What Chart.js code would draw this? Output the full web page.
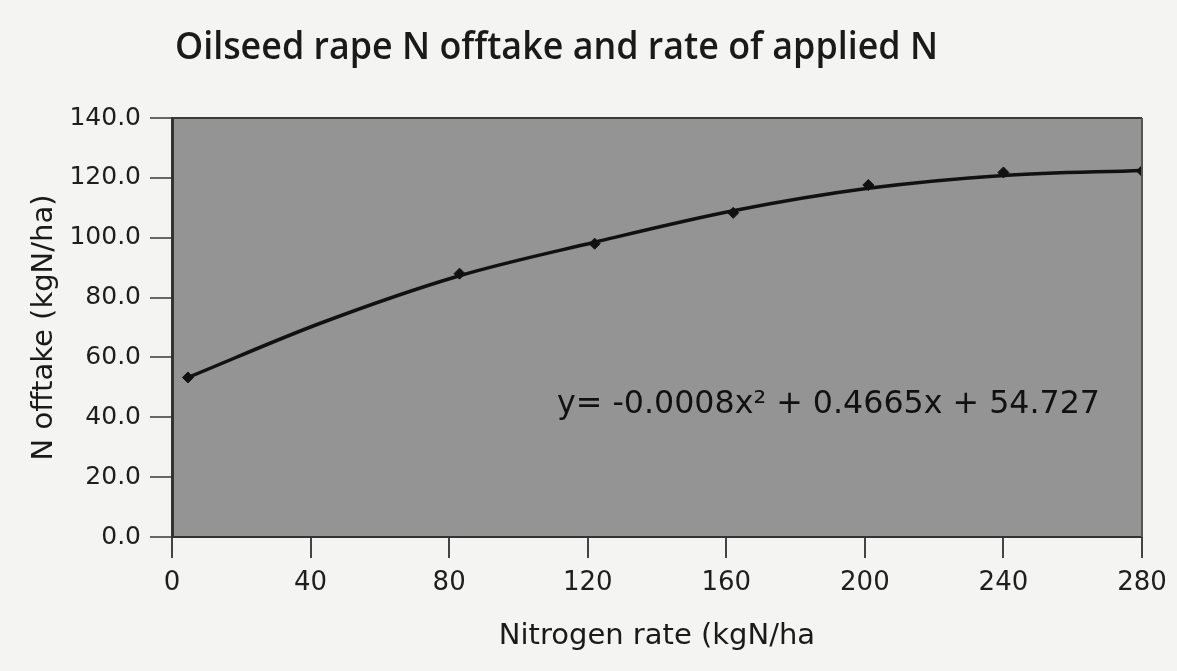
<!DOCTYPE html>
<html>
<head>
<meta charset="utf-8">
<script src="https://cdn.jsdelivr.net/npm/chart.js@4.4.1/dist/chart.umd.min.js"></script>
<style>
  html, body { margin: 0; padding: 0; background: #f4f4f3; }
  #wrap { width: 1177px; height: 671px; position: relative; }
</style>
</head>
<body>
<div id="wrap"><canvas id="c" width="1177" height="671"></canvas></div>
<script>
// ---- data ----
const chartTitle = "Oilseed rape N offtake and rate of applied N";
const xAxisTitle = "Nitrogen rate (kgN/ha";
const yAxisTitle = "N offtake (kgN/ha)";
const equationText = "y= -0.0008x\u00B2 + 0.4665x + 54.727";

const nitrogenRate = [4.6, 83, 122, 162, 201, 240, 280];
const nOfftake     = [53.3, 88.0, 98.0, 108.3, 117.6, 121.8, 122.3];

// trend curve
const trendX = [4.6, 43, 83, 122, 162, 201, 240, 280];
const trendY = [53.3, 71.5, 87.3, 98.5, 109.0, 116.5, 120.8, 122.5];

const xTicks = [0, 40, 80, 120, 160, 200, 240, 280];
const yTicks = [0, 20, 40, 60, 80, 100, 120, 140];

// ---- chart ----
const FONT = "'DejaVu Sans', 'Open Sans', sans-serif";
const TITLE_FONT = "'Open Sans', sans-serif";
const PLOT = { left: 172, right: 1142, top: 118, bottom: 537 };

function fitText(ctx, text, family, weight, baseSize, targetW) {
  ctx.font = weight + " " + baseSize + "px " + family;
  const w = ctx.measureText(text).width;
  ctx.font = weight + " " + (baseSize * targetW / w).toFixed(2) + "px " + family;
}

const decor = {
  id: 'decor',
  beforeDraw(chart) {
    const { ctx, chartArea: a } = chart;
    ctx.save();
    ctx.fillStyle = '#f4f4f3';
    ctx.fillRect(0, 0, chart.width, chart.height);
    ctx.fillStyle = '#949494';
    ctx.fillRect(a.left, a.top, a.right - a.left, a.bottom - a.top);
    ctx.restore();
  },
  afterDatasetsDraw(chart) {
    const { ctx, chartArea: a } = chart;
    ctx.save();
    ctx.strokeStyle = '#3a3a3a';
    ctx.lineWidth = 2;
    ctx.beginPath();
    ctx.moveTo(a.left, a.top); ctx.lineTo(a.right, a.top);
    ctx.stroke();
    ctx.strokeStyle = '#555';
    ctx.beginPath();
    ctx.moveTo(a.right, a.top); ctx.lineTo(a.right, a.bottom);
    ctx.stroke();
    // equation
    ctx.fillStyle = '#111';
    ctx.textBaseline = 'middle';
    ctx.textAlign = 'left';
    fitText(ctx, equationText, FONT, 'normal', 28, 543);
    ctx.fillText(equationText, 557, 405);
    // title: condensed look, drawn tall then squeezed to the measured width
    ctx.fillStyle = '#1a1a1a';
    ctx.font = "600 37px " + TITLE_FONT;
    const wT = ctx.measureText(chartTitle).width;
    ctx.translate(175, 48);
    ctx.scale(763 / wT, 1);
    ctx.fillText(chartTitle, 0, 0);
    ctx.restore();
  }
};

new Chart(document.getElementById('c'), {
  type: 'scatter',
  data: {
    datasets: [
      {
        type: 'line',
        label: 'trend',
        data: trendX.map((x, i) => ({ x, y: trendY[i] })),
        borderColor: '#111',
        borderWidth: 3.5,
        pointRadius: 0,
        cubicInterpolationMode: 'monotone',
        fill: false,
        order: 2
      },
      {
        label: 'N offtake',
        data: nitrogenRate.map((x, i) => ({ x, y: nOfftake[i] })),
        pointStyle: 'rectRot',
        pointRadius: 5.5,
        backgroundColor: '#111',
        borderColor: '#111',
        order: 1
      }
    ]
  },
  options: {
    responsive: false,
    animation: false,
    devicePixelRatio: 1,
    layout: { padding: { left: 0, top: PLOT.top, right: 1177 - PLOT.right, bottom: 0 } },
    plugins: {
      legend: { display: false },
      tooltip: { enabled: false },
      title: { display: false }
    },
    scales: {
      x: {
        type: 'linear',
        min: xTicks[0], max: xTicks[xTicks.length - 1],
        afterBuildTicks: s => { s.ticks = xTicks.map(v => ({ value: v })); },
        afterFit: s => { s.height = 671 - PLOT.bottom; },
        ticks: {
          padding: 10,
          color: '#1e1e1e',
          font: { family: FONT, size: 26 },
          maxRotation: 0,
          callback: v => String(v)
        },
        grid: { drawOnChartArea: false, tickLength: 21, color: '#444', lineWidth: 2 },
        border: { display: true, color: '#333', width: 2 },
        title: {
          display: true, text: xAxisTitle, color: '#1a1a1a',
          font: { family: FONT, size: 29 },
          padding: { top: 0, bottom: 17 }
        }
      },
      y: {
        type: 'linear',
        min: yTicks[0], max: yTicks[yTicks.length - 1],
        afterBuildTicks: s => { s.ticks = yTicks.map(v => ({ value: v })); },
        afterFit: s => { s.width = PLOT.left; },
        ticks: {
          padding: 9,
          color: '#1e1e1e',
          font: { family: FONT, size: 25 },
          callback: v => Number(v).toFixed(1)
        },
        grid: { drawOnChartArea: false, tickLength: 22, color: '#666', lineWidth: 2 },
        border: { display: true, color: '#333', width: 3 },
        title: {
          display: true, text: yAxisTitle, color: '#1a1a1a',
          font: { family: FONT, size: 29 },
          padding: { top: 27, bottom: 0 }
        }
      }
    }
  },
  plugins: [decor]
});
</script>
</body>
</html>
